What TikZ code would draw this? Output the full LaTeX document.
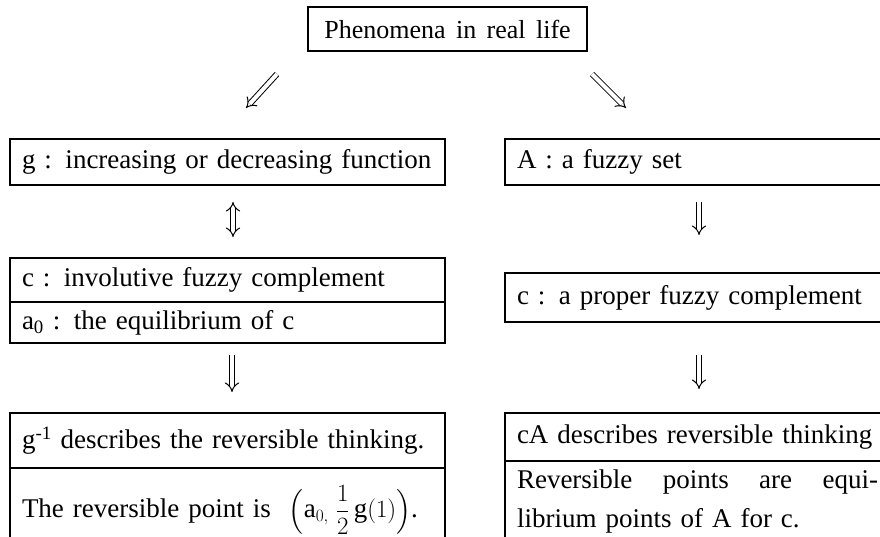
\documentclass[tikz,border=0pt]{standalone}
\usepackage{fontspec}
\setmainfont{Liberation Serif}[WordSpace=1.6]
\usepackage{amsmath}
\usetikzlibrary{arrows.meta}

\tikzset{
  cell/.style={draw, line width=1.6pt, outer sep=0pt, anchor=north west,
    inner xsep=12pt, inner ysep=0pt, align=left},
  lcell/.style={cell, text width=411pt},
  rcell/.style={cell, text width=396pt},
  imp/.style={double, line width=1pt, double distance=4pt, -{Implies}},
  impboth/.style={imp, {Implies}-{Implies}},
}

\begin{document}
\begin{tikzpicture}[x=1pt, y=-1pt, font=\fontsize{27}{39}\selectfont]
  \useasboundingbox (0,0) rectangle (880,536);
  \clip (0,0) rectangle (880,536);

  \node[draw, line width=1.6pt, minimum width=279pt, minimum height=44pt,
    font=\fontsize{26}{39}\selectfont] (life) at (447.5,29) {Phenomena in real life};

  % left column
  \node[lcell, minimum height=46pt] (g) at (10,139) {g : increasing or decreasing function};
  \node[lcell, minimum height=44pt] (c) at (10,258) {c : involutive fuzzy complement};
  \node[lcell, minimum height=41pt] (a0) at (c.south west) {a\textsubscript{0} : the equilibrium of c};
  \node[lcell, minimum height=55pt] (ginv) at (10,413) {g\textsuperscript{-1} describes the reversible thinking.};
  \node[lcell, minimum height=84pt] (rpoint) at (ginv.south west)
    {The reversible point is \ $\Bigl(\mathrm{a}_{0,}\;\dfrac{1}{2}\,\mathrm{g}(1)\Bigr)$.};

  % right column
  \node[rcell, minimum height=46pt] (A) at (505,139) {A : a fuzzy set};
  \node[rcell, minimum height=49pt] (cp) at (505,273) {c : a proper fuzzy complement};
  \node[rcell, minimum height=48pt] (cA) at (505,413) {cA describes reversible thinking};
  \node[rcell, minimum height=81pt] (eqp) at (cA.south west)
    {\parbox{361pt}{Reversible\hfill points\hfill are\hfill equi-\\librium points of A for c.}};

  % arrows
  \coordinate (dl0) at (277,74);
  \coordinate (dl1) at (246,108);
  \coordinate (dr0) at (592,74);
  \coordinate (dr1) at (626,108);
  \draw[imp] (dl0) -- (dl1);
  \draw[imp] (dr0) -- (dr1);
  \draw[impboth, shorten <=17pt, shorten >=21pt] ([xshift=5.5pt]g.south) -- ([xshift=5.5pt]c.north);
  \draw[imp, shorten <=12pt, shorten >=21pt] ([xshift=4.5pt]a0.south) -- ([xshift=4.5pt]ginv.north);
  \draw[imp, shorten <=17pt, shorten >=38pt] ([xshift=-16pt]A.south) -- ([xshift=-16pt]cp.north);
  \draw[imp, shorten <=33pt, shorten >=24pt] ([xshift=-16pt]cp.south) -- ([xshift=-16pt]cA.north);
\end{tikzpicture}
\end{document}
